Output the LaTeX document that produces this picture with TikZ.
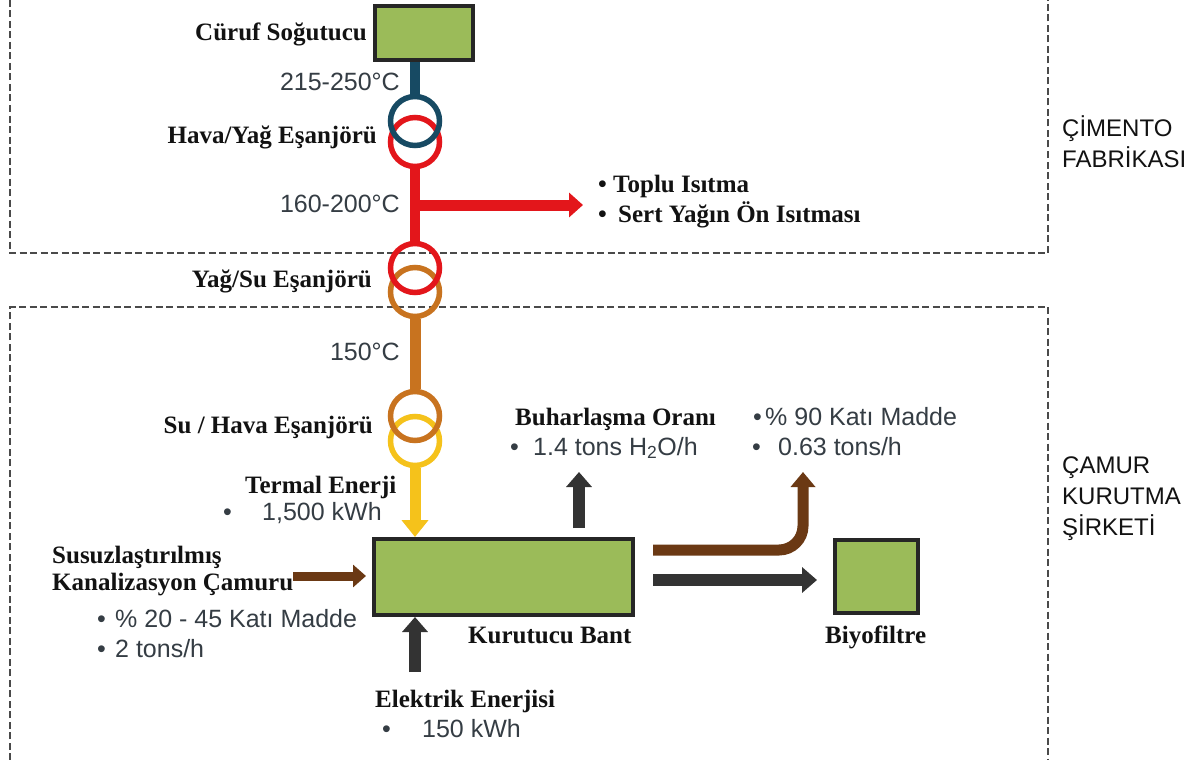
\documentclass[tikz,border=0pt]{standalone}
\usepackage{fontspec}
\setmainfont{Liberation Serif}
\newfontfamily\arialf{Liberation Sans}
\usetikzlibrary{arrows.meta}
\definecolor{boxgreen}{HTML}{9BBB59}
\definecolor{boxedge}{HTML}{262626}
\definecolor{navyc}{HTML}{174A63}
\definecolor{redc}{HTML}{E3161B}
\definecolor{orangec}{HTML}{C8731F}
\definecolor{yellowc}{HTML}{F5C21B}
\definecolor{brownc}{HTML}{6B3914}
\definecolor{darkc}{HTML}{333333}
\definecolor{serifcol}{HTML}{121212}
\definecolor{sanscol}{HTML}{353D44}
\definecolor{regioncol}{HTML}{4A4A4A}
\tikzset{
  box/.style={draw=boxedge, fill=boxgreen, line width=4pt, inner sep=0pt},
  ring/.style={circle, line width=5.5pt, minimum size=49pt, inner sep=0pt, fill=none},
  lbl/.style={font=\fontsize{25}{30}\selectfont\bfseries, text=serifcol, inner sep=0pt},
  val/.style={font=\arialf\fontsize{25}{30}\selectfont, text=sanscol, inner sep=0pt},
  reglbl/.style={font=\arialf\fontsize{24}{31}\selectfont, text=serifcol, inner sep=0pt, align=left},
  pipe/.style={line width=10pt},
  fatarrow/.style={line width=12pt, -{Triangle[length=15pt,width=25pt]}},
  region/.style={draw=regioncol, line width=1.3pt, dash pattern=on 7pt off 3.5pt}
}
\begin{document}
\begin{tikzpicture}[x=1pt,y=-1pt]
\useasboundingbox (0,0) rectangle (1203,760);
\fill[white] (0,0) rectangle (1203,760);

% regions
\draw[region] (10,0) -- (10,253) -- (1048,253) -- (1048,0);
\draw[region] (10,760) -- (10,307) -- (1048,307) -- (1048,760);
\node[reglbl, anchor=north west] (reg1) at (1062,115) {ÇİMENTO\\FABRİKASI};
\node[reglbl, anchor=north west] (reg2) at (1062,457) {ÇAMUR\\KURUTMA\\ŞİRKETİ};

% boxes
\node[box, minimum width=98pt, minimum height=54pt] (cs) at (424,33.5) {};
\node[box, minimum width=259pt, minimum height=76pt] (kb) at (503.5,577) {};
\node[box, minimum width=83pt, minimum height=73pt] (bf) at (876.5,576.5) {};

% rings
\node[ring, draw=redc] (r2) at (415,142) {};
\node[ring, draw=navyc] (r1) at (415,121) {};
\node[ring, draw=orangec] (r4) at (415,292) {};
\node[ring, draw=redc] (r3) at (415,268) {};
\node[ring, draw=yellowc] (r6) at (415,441) {};
\node[ring, draw=orangec] (r5) at (415,416) {};

% pipes
\draw[navyc, pipe] (cs.south -| r1) -- (r1.north);
\draw[redc, pipe] (r2.south) -- (r3.north);
\draw[orangec, line width=11pt] (r4.south) -- (r5.north);
\coordinate (rb) at (415,205);
\coordinate (rt) at (583,205);
\draw[redc, line width=11pt, -{Triangle[length=14pt,width=24pt]}] (rb) -- (rt);
\draw[yellowc, line width=11pt, -{Triangle[length=17pt,width=26pt]}] (r6.south) -- (r6.south |- kb.north);

% flows
\coordinate (ein) at (415,672);
\draw[darkc, fatarrow] (ein) -- (ein |- kb.south);
\coordinate (evtop) at (579,472);
\draw[darkc, fatarrow, shorten <=9pt] (evtop |- kb.north) -- (evtop);
\coordinate (sl) at (293,576);
\draw[brownc, line width=9pt, shorten >=6pt, -{Triangle[length=13pt,width=22pt]}] (sl) -- (sl -| kb.west);
\coordinate (bc0) at (653,550);
\coordinate (bc1) at (803,472);
\draw[brownc, line width=11pt, rounded corners=24pt, -{Triangle[length=15pt,width=24pt]}] (bc0) -| (bc1);
\coordinate (bf0) at (653,580);
\draw[darkc, fatarrow, shorten >=16pt] (bf0) -- (bf0 -| bf.west);

% labels
\node[lbl, anchor=base west] (t1) at (195,41) {Cüruf Soğutucu};
\node[val, anchor=base east] (t2) at (400,91) {215-250°C};
\node[lbl, anchor=base east] (t3) at (377,143) {Hava/Yağ Eşanjörü};
\node[val, anchor=base east] (t4) at (400,212) {160-200°C};
\node[lbl, anchor=base west] (t5) at (598,192) {\makebox[15pt][l]{•}Toplu Isıtma};
\node[lbl, anchor=base west] (t6) at (598,222) {\makebox[20pt][l]{•}Sert Yağın Ön Isıtması};
\node[lbl, anchor=base east] (t7) at (372,287) {Yağ/Su Eşanjörü};
\node[val, anchor=base east] (t8) at (400,360) {150°C};
\node[lbl, anchor=base east] (t9) at (373,433) {Su / Hava Eşanjörü};
\node[lbl, anchor=base west] (t10) at (245,493) {Termal Enerji};
\node[val, anchor=base west] (t11) at (223,520) {\makebox[39pt][l]{•}1,500 kWh};
\node[lbl, anchor=base west] (t12) at (52,563) {Susuzlaştırılmış};
\node[lbl, anchor=base west] (t13) at (52,590) {Kanalizasyon Çamuru};
\node[val, anchor=base west] (t14) at (97,627) {\makebox[18pt][l]{•}\% 20 - 45 Katı Madde};
\node[val, anchor=base west] (t15) at (97,657) {\makebox[18pt][l]{•}2 tons/h};
\node[lbl, anchor=base west] (t16) at (468,643) {Kurutucu Bant};
\node[lbl, anchor=base west] (t17) at (375,707) {Elektrik Enerjisi};
\node[val, anchor=base west] (t18) at (382,737) {\makebox[40pt][l]{•}150 kWh};
\node[lbl, anchor=base west] (t19) at (515,425) {Buharlaşma Oranı};
\node[val, anchor=base west] (t20) at (510,455) {\makebox[23pt][l]{•}1.4 tons H\textsubscript{2}O/h};
\node[val, anchor=base west] (t21) at (753,425) {\makebox[12pt][l]{•}\% 90 Katı Madde};
\node[val, anchor=base west] (t22) at (752,455) {\makebox[26pt][l]{•}0.63 tons/h};
\node[lbl, anchor=base west] (t23) at (825,643) {Biyofiltre};
\end{tikzpicture}
\end{document}
